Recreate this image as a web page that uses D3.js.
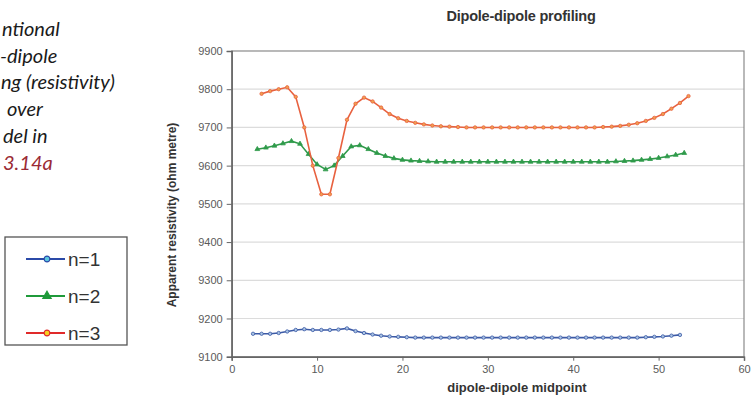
<!DOCTYPE html>
<html>
<head>
<meta charset="utf-8">
<script src="https://cdn.jsdelivr.net/npm/d3@7"></script>
<style>
  body { margin: 0; background: #fff; }
  svg { display: block; }
</style>
</head>
<body>
<svg id="viz" width="751" height="400"></svg>
<script>
// midpoints and apparent resistivity for each separation n
var n1X = [2.5,3.5,4.5,5.5,6.5,7.5,8.5,9.5,10.5,11.5,12.5,13.5,14.5,15.5,16.5,17.5,18.5,19.5,20.5,
  21.5,22.5,23.5,24.5,25.5,26.5,27.5,28.5,29.5,30.5,31.5,32.5,33.5,34.5,35.5,36.5,37.5,38.5,39.5,40.5,
  41.5,42.5,43.5,44.5,45.5,46.5,47.5,48.5,49.5,50.5,51.5,52.5];
var n1Y = [9160,9160,9160,9162,9166,9170,9172,9170,9170,9170,9171,9174,9167,9162,9158,9155,9153,9152,9151,
  9150,9150,9150,9150,9150,9150,9150,9150,9150,9150,9150,9150,9150,9150,9150,9150,9150,9150,9150,9150,
  9150,9150,9150,9150,9150,9150,9150,9151,9152,9153,9155,9157];

var n2X = [3,4,5,6,7,8,9,10,11,12,13,14,15,16,17,18,19,20,21,22,23,24,25,26,27,28,29,30,31,32,33,34,35,
  36,37,38,39,40,41,42,43,44,45,46,47,48,49,50,51,52,53];
var n2Y = [9643,9647,9652,9658,9664,9657,9630,9603,9590,9600,9625,9650,9653,9643,9633,9625,9619,9615,9613,
  9612,9611,9610,9610,9610,9610,9610,9610,9610,9610,9610,9610,9610,9610,9610,9610,9610,9610,9610,9610,
  9610,9610,9610,9611,9612,9613,9615,9617,9620,9624,9628,9633];

var n3X = [3.5,4.5,5.5,6.5,7.5,8.5,9.5,10.5,11.5,12.5,13.5,14.5,15.5,16.5,17.5,18.5,19.5,20.5,21.5,22.5,
  23.5,24.5,25.5,26.5,27.5,28.5,29.5,30.5,31.5,32.5,33.5,34.5,35.5,36.5,37.5,38.5,39.5,40.5,41.5,42.5,
  43.5,44.5,45.5,46.5,47.5,48.5,49.5,50.5,51.5,52.5,53.5];
var n3Y = [9788,9795,9800,9805,9780,9700,9600,9525,9525,9620,9720,9762,9778,9768,9752,9735,9724,9717,9712,
  9708,9705,9703,9702,9701,9700,9700,9700,9700,9700,9700,9700,9700,9700,9700,9700,9700,9700,9700,9700,
  9700,9701,9702,9704,9707,9711,9717,9725,9735,9749,9764,9782];

var xTicks = [0, 10, 20, 30, 40, 50, 60];
var yTicks = [9100, 9200, 9300, 9400, 9500, 9600, 9700, 9800, 9900];
var seriesNames = ["n=1", "n=2", "n=3"];
// only the part of the caption that shows in the picture
var captionLines = ["ntional", "-dipole", "ng (resistivity)", "over", "del in"];
var captionRef = "3.14a";

var svg = d3.select("#viz");

var plotL = 231.7, plotR = 744, plotT = 51, plotB = 356.7;

var x = d3.scaleLinear().domain([0, 60]).range([plotL, plotR]);
var y = d3.scaleLinear().domain([9100, 9900]).range([plotB, plotT]);

// caption
var cap = svg.append("g")
  .style("font-family", "Lato, 'Open Sans', sans-serif")
  .style("font-style", "italic")
  .style("font-size", "20px")
  .attr("fill", "#1a1a1a");
var capLeft = [2, 0, 1, 7, 3];
captionLines.forEach(function(t, i) {
  cap.append("text").attr("x", capLeft[i]).attr("y", 36 + i * 26.7).text(t);
});
cap.append("text").attr("x", 3).attr("y", 36 + 5 * 26.7)
  .attr("fill", "#9b2b35").text(captionRef);

// grid
svg.append("g").selectAll("line")
  .data(yTicks.slice(1, -1))
  .enter().append("line")
  .attr("x1", plotL).attr("x2", plotR)
  .attr("y1", function(d) { return y(d); })
  .attr("y2", function(d) { return y(d); })
  .attr("stroke", "#dcdcdc")
  .attr("stroke-width", 1.2);

// frame
svg.append("rect")
  .attr("x", plotL).attr("y", plotT)
  .attr("width", plotR - plotL).attr("height", plotB - plotT)
  .attr("fill", "none").attr("stroke", "#8a8a8a").attr("stroke-width", 1.2);

var yAxis = svg.append("g")
  .attr("transform", "translate(" + plotL + ",0)")
  .call(d3.axisLeft(y).tickValues(yTicks).tickSize(5).tickPadding(4).tickFormat(d3.format("d")));
var xAxis = svg.append("g")
  .attr("transform", "translate(0," + plotB + ")")
  .call(d3.axisBottom(x).tickValues(xTicks).tickSize(4).tickPadding(5));

[yAxis, xAxis].forEach(function(a) {
  a.select(".domain").attr("stroke", "#666").attr("stroke-width", 1.5);
  a.selectAll(".tick line").attr("stroke", "#666");
  a.selectAll(".tick text")
    .attr("fill", "#5a5a5a")
    .style("font-family", "'Liberation Sans', Arial, sans-serif")
    .style("font-size", "11px");
});

// titles
svg.append("text")
  .attr("x", 521).attr("y", 21)
  .attr("text-anchor", "middle")
  .attr("fill", "#333")
  .style("font-family", "'Liberation Sans', Arial, sans-serif")
  .style("font-weight", "bold")
  .style("font-size", "14.5px")
  .style("letter-spacing", "-0.2px")
  .text("Dipole-dipole profiling");

svg.append("text")
  .attr("x", 517).attr("y", 392)
  .attr("text-anchor", "middle")
  .attr("fill", "#333")
  .style("font-family", "'Liberation Sans', Arial, sans-serif")
  .style("font-weight", "bold")
  .style("font-size", "13px")
  .text("dipole-dipole midpoint");

svg.append("text")
  .attr("transform", "translate(176,215) rotate(-90)")
  .attr("text-anchor", "middle")
  .attr("fill", "#333")
  .style("font-family", "'Liberation Sans', Arial, sans-serif")
  .style("font-weight", "bold")
  .style("font-size", "12px")
  .text("Apparent resistivity (ohm metre)");

// series
var series = [
  { xs: n1X, ys: n1Y, color: "#3c5aa6", fill: "#a9c4e4", shape: "circle" },
  { xs: n2X, ys: n2Y, color: "#2f9a4a", fill: "#2f9a4a", shape: "triangle" },
  { xs: n3X, ys: n3Y, color: "#e8613f", fill: "#f0a050", shape: "circle" }
];

var line = d3.line()
  .x(function(d) { return x(d[0]); })
  .y(function(d) { return y(d[1]); });

series.forEach(function(s) {
  var pts = d3.zip(s.xs, s.ys);
  svg.append("path")
    .datum(pts)
    .attr("d", line)
    .attr("fill", "none")
    .attr("stroke", s.color)
    .attr("stroke-width", 1.6);
  var sym = d3.symbol()
    .type(s.shape === "triangle" ? d3.symbolTriangle : d3.symbolCircle)
    .size(s.shape === "triangle" ? 10 : 9);
  svg.append("g").selectAll("path")
    .data(pts)
    .enter().append("path")
    .attr("d", sym)
    .attr("transform", function(d) { return "translate(" + x(d[0]) + "," + y(d[1]) + ")"; })
    .attr("fill", s.fill)
    .attr("stroke", s.color)
    .attr("stroke-width", 0.8);
});

// legend
var legend = svg.append("g");
legend.append("rect")
  .attr("x", 5).attr("y", 237).attr("width", 122).attr("height", 108)
  .attr("fill", "#fff").attr("stroke", "#555").attr("stroke-width", 1.3);

var legendColors = [
  { color: "#2b4aa8", fill: "#5cc8e0", shape: "circle" },
  { color: "#1f9a3a", fill: "#1f9a3a", shape: "triangle" },
  { color: "#e02a2a", fill: "#f5d020", shape: "circle" }
];
var legendY = d3.scalePoint().domain(seriesNames).range([259, 333]);

seriesNames.forEach(function(name, i) {
  var c = legendColors[i];
  var ly = legendY(name);
  legend.append("line")
    .attr("x1", 26).attr("x2", 65).attr("y1", ly).attr("y2", ly)
    .attr("stroke", c.color).attr("stroke-width", 2.2);
  legend.append("path")
    .attr("d", d3.symbol().type(c.shape === "triangle" ? d3.symbolTriangle : d3.symbolCircle).size(c.shape === "triangle" ? 30 : 26))
    .attr("transform", "translate(47," + ly + ")")
    .attr("fill", c.fill)
    .attr("stroke", c.color)
    .attr("stroke-width", 1.2);
  legend.append("text")
    .attr("x", 68).attr("y", ly + 7)
    .attr("fill", "#333")
    .style("font-family", "'Liberation Sans', Arial, sans-serif")
    .style("font-size", "19px")
    .text(name);
});
</script>
</body>
</html>
